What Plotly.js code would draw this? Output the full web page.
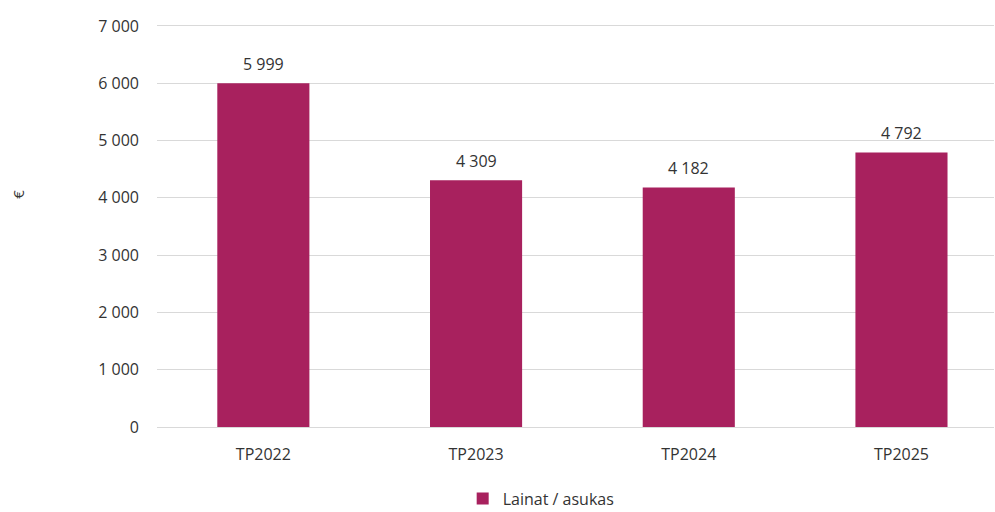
<!DOCTYPE html>
<html>
<head>
<meta charset="utf-8">
<script src="https://cdn.plot.ly/plotly-3.0.1.min.js"></script>
<style>html,body{margin:0;padding:0;background:#fff;}#chart{width:995px;height:512px;}</style>
</head>
<body>
<div id="chart"></div>
<script>
const categories = ["TP2022", "TP2023", "TP2024", "TP2025"];
const values = [5999, 4309, 4182, 4792];
const seriesName = "Lainat / asukas";
const yTickVals = [0, 1000, 2000, 3000, 4000, 5000, 6000, 7000];
const yTickText = ["0", "1 000", "2 000", "3 000", "4 000", "5 000", "6 000", "7 000"];
const yTitle = "€";

function fmt(v) { return String(v).replace(/\B(?=(\d{3})+(?!\d))/g, " "); }

const barColor = "#A8215E";
const textColor = "#333333";
const font = "Open Sans, Noto Sans, sans-serif";

const trace = {
  type: "bar",
  x: categories,
  y: values,
  name: seriesName,
  marker: {color: barColor},
  width: 0.433,
  showlegend: true,
  hoverinfo: "skip"
};

const annotations = categories.map((c, i) => ({
  x: c, y: values[i], xref: "x", yref: "y",
  text: fmt(values[i]), showarrow: false,
  yanchor: "bottom", yshift: 6,
  font: {family: font, size: 16, color: textColor}
}));
annotations.push({
  xref: "paper", yref: "paper", x: -0.166, xanchor: "center", y: 0.575,
  text: yTitle, showarrow: false, textangle: -90,
  font: {family: font, size: 15, color: textColor}
});

const layout = {
  width: 995, height: 512,
  margin: {l: 157, r: 1, t: 23, b: 85, autoexpand: false},
  paper_bgcolor: "#fff", plot_bgcolor: "#fff",
  font: {family: font, size: 16, color: textColor},
  xaxis: {
    type: "category",
    range: [-0.5, 3.435],
    showgrid: false, zeroline: false, showline: false,
    ticks: "", ticklabelstandoff: 16,
    tickfont: {family: font, size: 16, color: textColor}
  },
  yaxis: {
    range: [0, 7052],
    tickvals: yTickVals, ticktext: yTickText,
    showgrid: true, gridcolor: "#d9d9d9", gridwidth: 1,
    zeroline: true, zerolinecolor: "#d9d9d9", zerolinewidth: 1,
    showline: false, ticks: "", ticklabelstandoff: 17,
    tickfont: {family: font, size: 16, color: textColor}
  },
  legend: {
    orientation: "h", x: 0.459, xanchor: "center",
    yref: "container", y: 0.026, yanchor: "middle",
    font: {family: font, size: 16, color: textColor},
    itemwidth: 30
  },
  annotations: annotations
};

Plotly.newPlot("chart", [trace], layout, {staticPlot: true, displayModeBar: false});
</script>
</body>
</html>
